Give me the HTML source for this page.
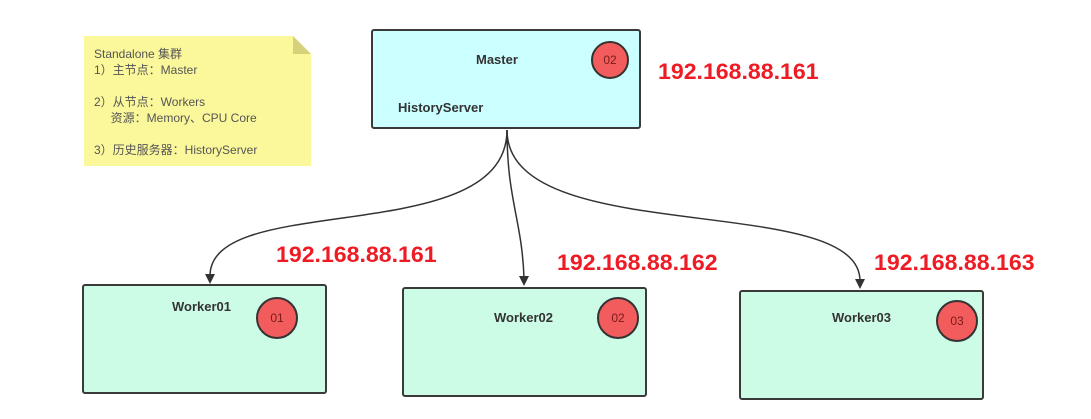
<!DOCTYPE html>
<html><head><meta charset="utf-8"><style>
body{margin:0;width:1091px;height:419px;background:#fff;overflow:hidden;position:relative;font-family:"Liberation Sans","Noto Sans CJK SC",sans-serif}
.box{position:absolute;border:2px solid #3a3a3a;border-radius:3px;box-sizing:border-box}
.t{position:absolute;font-weight:bold;font-size:13px;color:#333}
.c{position:absolute;border:2px solid #333;border-radius:50%;background:#f25c5c;box-sizing:border-box;color:#7a1b1b;font-size:12px;text-align:center}
.ip{position:absolute;color:#ee1b24;font-weight:bold;font-size:22px;transform:scaleX(1.05);transform-origin:left}
.note{position:absolute;font-size:12px;color:#555;line-height:16px}
</style></head><body>
<svg style="position:absolute;left:0;top:0" width="1091" height="419">
<polygon points="84,36 293,36 311,54 311,166 84,166" fill="#fbf79b"/>
<polygon points="293,36 311,54 293,54" fill="#d6d17a"/>
<g fill="none" stroke="#333" stroke-width="1.5">
<path d="M507,130 C507,250 210,190 210,276"/>
<path d="M507,130 C507,200 522,220 524,278"/>
<path d="M507,130 C507,250 860,190 860,281"/>
</g>
<g fill="#333">
<polygon points="205,274 215,274 210,284"/>
<polygon points="519,276 529,276 524,286"/>
<polygon points="855,279 865,279 860,289"/>
</g>
</svg>
<div class="note" style="left:94px;top:46px">Standalone 集群<br>1）主节点：Master<br><br>2）从节点：Workers<br>&nbsp;&nbsp;&nbsp;&nbsp;&nbsp;资源：Memory、CPU Core<br><br>3）历史服务器：HistoryServer</div>
<div class="box" style="left:371px;top:29px;width:270px;height:100px;background:#ccffff"></div>
<div class="t" style="left:476px;top:52px">Master</div>
<div class="t" style="left:398px;top:100px">HistoryServer</div>
<div class="c" style="left:591px;top:41px;width:38px;height:38px;line-height:34px">02</div>
<div class="ip" style="left:658px;top:59px">192.168.88.161</div>
<div class="box" style="left:82px;top:284px;width:245px;height:110px;background:#ccfbe6"></div>
<div class="t" style="left:172px;top:299px">Worker01</div>
<div class="c" style="left:256px;top:297px;width:42px;height:42px;line-height:38px">01</div>
<div class="box" style="left:402px;top:287px;width:245px;height:110px;background:#ccfbe6"></div>
<div class="t" style="left:494px;top:310px">Worker02</div>
<div class="c" style="left:597px;top:297px;width:42px;height:42px;line-height:38px">02</div>
<div class="box" style="left:739px;top:290px;width:245px;height:110px;background:#ccfbe6"></div>
<div class="t" style="left:832px;top:310px">Worker03</div>
<div class="c" style="left:936px;top:300px;width:42px;height:42px;line-height:38px">03</div>
<div class="ip" style="left:276px;top:242px">192.168.88.161</div>
<div class="ip" style="left:557px;top:250px">192.168.88.162</div>
<div class="ip" style="left:874px;top:250px">192.168.88.163</div>
</body></html>
